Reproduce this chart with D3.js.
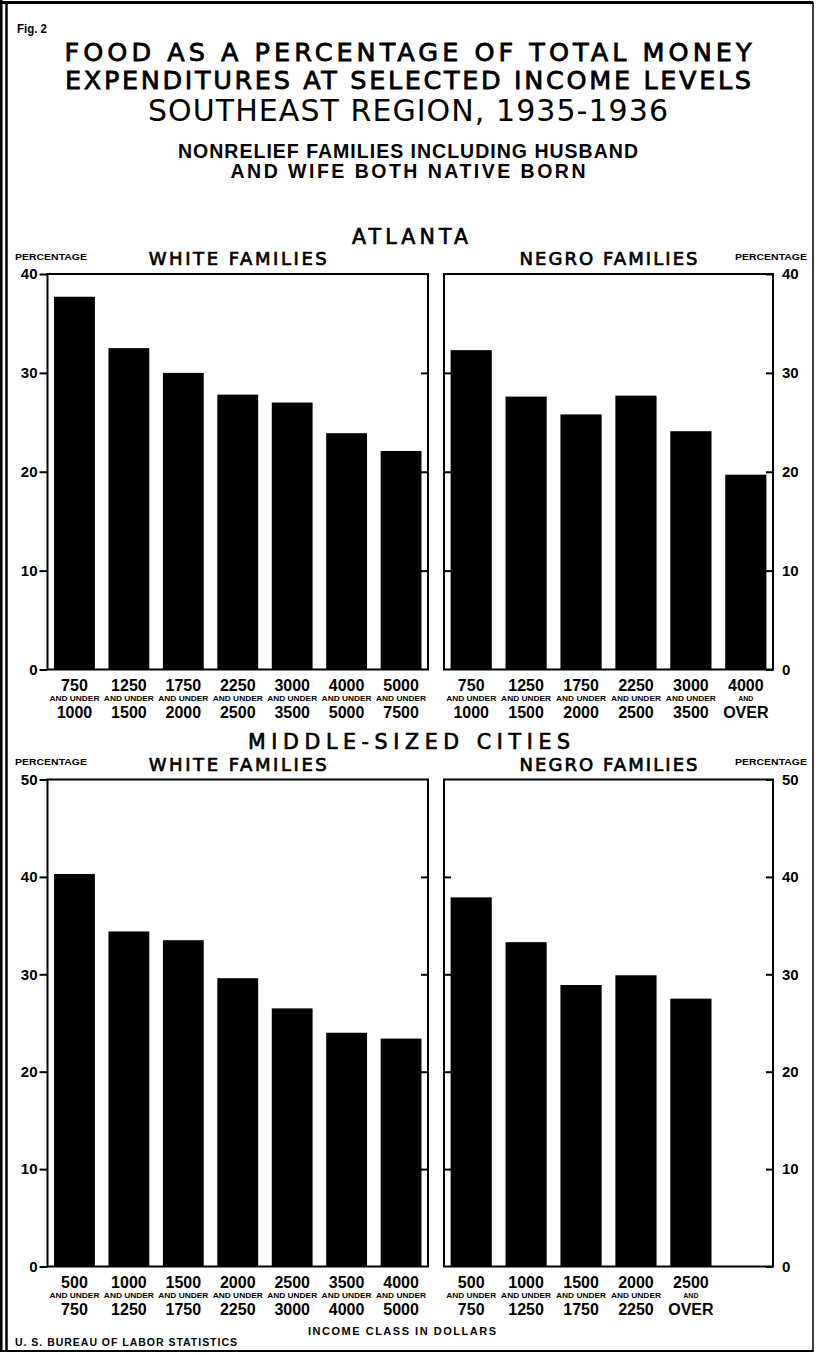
<!DOCTYPE html>
<html>
<head>
<meta charset="utf-8">
<script src="https://cdn.jsdelivr.net/npm/d3@7/dist/d3.min.js"></script>
<style>
html,body{margin:0;padding:0;background:#fff;}
svg{display:block;}
</style>
</head>
<body>
<script>
// ---------- DATA ----------
const atlWhiteValues = [37.7, 32.5, 30.0, 27.8, 27.0, 23.9, 22.1];
const atlWhiteLow    = ["750","1250","1750","2250","3000","4000","5000"];
const atlWhiteMid    = ["AND UNDER","AND UNDER","AND UNDER","AND UNDER","AND UNDER","AND UNDER","AND UNDER"];
const atlWhiteHigh   = ["1000","1500","2000","2500","3500","5000","7500"];

const atlNegroValues = [32.3, 27.6, 25.8, 27.7, 24.1, 19.7];
const atlNegroLow    = ["750","1250","1750","2250","3000","4000"];
const atlNegroMid    = ["AND UNDER","AND UNDER","AND UNDER","AND UNDER","AND UNDER","AND"];
const atlNegroHigh   = ["1000","1500","2000","2500","3500","OVER"];

const midWhiteValues = [40.3, 34.4, 33.5, 29.6, 26.5, 24.0, 23.4];
const midWhiteLow    = ["500","1000","1500","2000","2500","3500","4000"];
const midWhiteMid    = ["AND UNDER","AND UNDER","AND UNDER","AND UNDER","AND UNDER","AND UNDER","AND UNDER"];
const midWhiteHigh   = ["750","1250","1750","2250","3000","4000","5000"];

const midNegroValues = [37.9, 33.3, 28.9, 29.9, 27.5];
const midNegroLow    = ["500","1000","1500","2000","2500"];
const midNegroMid    = ["AND UNDER","AND UNDER","AND UNDER","AND UNDER","AND"];
const midNegroHigh   = ["750","1250","1750","2250","OVER"];

const atlTicks = [0, 10, 20, 30, 40];
const midTicks = [0, 10, 20, 30, 40, 50];

const titleLines = [
  "FOOD AS A PERCENTAGE OF TOTAL MONEY",
  "EXPENDITURES AT SELECTED INCOME LEVELS",
  "SOUTHEAST REGION, 1935-1936",
  "NONRELIEF FAMILIES INCLUDING HUSBAND",
  "AND WIFE BOTH NATIVE BORN"
];

// ---------- DRAW ----------
const W = 816, H = 1354;
const LS = "'Liberation Sans',Arial,sans-serif";
const DV = "'DejaVu Sans',Verdana,sans-serif";
const svg = d3.select("body").append("svg").attr("width", W).attr("height", H)
  .attr("font-family", LS).attr("fill", "#000");
svg.append("rect").attr("width", W).attr("height", H).attr("fill", "#fff");

// outer frame
const frame = svg.append("g").attr("stroke", "#000").attr("fill", "none");
frame.append("line").attr("x1", 0).attr("x2", 813).attr("y1", 2.5).attr("y2", 2.5).attr("stroke-width", 3);
frame.append("line").attr("x1", 1.3).attr("x2", 1.3).attr("y1", 0).attr("y2", 1352).attr("stroke-width", 2.5);
frame.append("line").attr("x1", 6.5).attr("x2", 6.5).attr("y1", 2).attr("y2", 1351).attr("stroke-width", 2.5);
frame.append("line").attr("x1", 813).attr("x2", 813).attr("y1", 2).attr("y2", 1352).attr("stroke-width", 1.5);
frame.append("line").attr("x1", 0).attr("x2", 813).attr("y1", 1351).attr("y2", 1351).attr("stroke-width", 2);

// header
svg.append("text").attr("x", 17).attr("y", 33).attr("font-size", 12.5).attr("font-weight", 700)
  .attr("textLength", 30).attr("lengthAdjust", "spacingAndGlyphs").text("Fig. 2");

const titleSpec = [
  {y: 61,   size: 25.5, weight: 400, font: DV, stroke: 0.8, len: 687},
  {y: 88.5, size: 25.5, weight: 400, font: DV, stroke: 0.8, len: 686},
  {y: 121,  size: 30,   weight: 400, font: DV, stroke: 0,   len: 520},
  {y: 157.5,size: 19.5, weight: 700, font: LS, stroke: 0,   len: 460},
  {y: 177.5,size: 19.5, weight: 700, font: LS, stroke: 0,   len: 355}
];
titleLines.forEach((t, i) => {
  const s = titleSpec[i];
  svg.append("text").attr("x", 408).attr("y", s.y).attr("text-anchor", "middle")
    .attr("font-family", s.font).attr("font-size", s.size).attr("font-weight", s.weight)
    .attr("stroke", s.stroke ? "#000" : "none").attr("stroke-width", s.stroke)
    .attr("textLength", s.len).attr("lengthAdjust", "spacing").text(t);
});

function heading(txt, cx, y, size, len) {
  svg.append("text").attr("x", cx).attr("y", y).attr("text-anchor", "middle")
    .attr("font-family", DV).attr("font-size", size).attr("font-weight", 400)
    .attr("stroke", "#000").attr("stroke-width", 0.7)
    .attr("textLength", len).attr("lengthAdjust", "spacing").text(txt);
}
function smallLabel(txt, x, y) {
  svg.append("text").attr("x", x).attr("y", y).attr("font-size", 9).attr("font-weight", 700)
    .attr("textLength", 72).attr("lengthAdjust", "spacingAndGlyphs").text(txt);
}

heading("ATLANTA", 410, 244, 20.5, 116);
heading("MIDDLE-SIZED CITIES", 409, 749, 20.5, 322);

function panel(o) {
  const y = d3.scaleLinear().domain([0, o.max]).range([o.yBot, o.yTop]);
  const x = d3.scaleBand().domain(d3.range(o.slots)).range([o.x0, o.x1])
    .paddingInner(0.25).paddingOuter(0.12);
  const g = svg.append("g");

  g.selectAll("rect.bar").data(o.values).join("rect").attr("class", "bar")
    .attr("x", (d, i) => x(i)).attr("width", x.bandwidth())
    .attr("y", d => y(d)).attr("height", d => y(0) - y(d)).attr("fill", "#000");

  g.append("rect").attr("x", o.x0).attr("y", o.yTop)
    .attr("width", o.x1 - o.x0).attr("height", o.yBot - o.yTop)
    .attr("fill", "none").attr("stroke", "#000").attr("stroke-width", 2);

  const styleAxis = sel => {
    sel.select(".domain").remove();
    sel.selectAll(".tick line").attr("stroke", "#000").attr("stroke-width", 2);
    sel.selectAll(".tick text").attr("font-size", 15).attr("font-weight", 700)
      .attr("font-family", LS).attr("fill", "#000");
  };
  if (o.side === "left") {
    g.append("g").attr("transform", `translate(${o.x0},0)`)
      .call(d3.axisLeft(y).tickValues(o.ticks).tickSize(8).tickPadding(2).tickFormat(d3.format("d")))
      .call(styleAxis);
    g.append("g").attr("transform", `translate(${o.x1},0)`)
      .call(d3.axisRight(y).tickValues(o.ticks.slice(1, -1)).tickSize(-7).tickFormat(""))
      .call(styleAxis);
  } else {
    g.append("g").attr("transform", `translate(${o.x1},0)`)
      .call(d3.axisRight(y).tickValues(o.ticks).tickSize(-7).tickPadding(9).tickFormat(d3.format("d")))
      .call(styleAxis);
    g.append("g").attr("transform", `translate(${o.x0},0)`)
      .call(d3.axisLeft(y).tickValues(o.ticks.slice(1, -1)).tickSize(-7).tickFormat(""))
      .call(styleAxis);
  }

  const cx = i => x(i) + x.bandwidth() / 2;
  g.selectAll("text.lo").data(o.low).join("text").attr("class", "lo")
    .attr("x", (d, i) => cx(i)).attr("y", o.yBot + 21).attr("text-anchor", "middle")
    .attr("font-size", 16).attr("font-weight", 700).text(d => d);
  g.selectAll("text.mid").data(o.mid).join("text").attr("class", "mid")
    .attr("x", (d, i) => cx(i)).attr("y", o.yBot + 31).attr("text-anchor", "middle")
    .attr("font-size", 7).attr("font-weight", 700)
    .each(function (d) {
      if (d.length > 4) d3.select(this).attr("textLength", 50).attr("lengthAdjust", "spacingAndGlyphs");
    })
    .text(d => d);
  g.selectAll("text.hi").data(o.high).join("text").attr("class", "hi")
    .attr("x", (d, i) => cx(i)).attr("y", o.yBot + 48).attr("text-anchor", "middle")
    .attr("font-size", 16).attr("font-weight", 700).text(d => d);

  heading(o.title, (o.x0 + o.x1) / 2, o.yTop - 9, 18, 178);
}

panel({x0: 47.5, x1: 428, yTop: 274, yBot: 669.5, max: 40, slots: 7, side: "left",
  values: atlWhiteValues, low: atlWhiteLow, mid: atlWhiteMid, high: atlWhiteHigh,
  ticks: atlTicks, title: "WHITE FAMILIES"});
panel({x0: 444, x1: 773, yTop: 274, yBot: 669.5, max: 40, slots: 6, side: "right",
  values: atlNegroValues, low: atlNegroLow, mid: atlNegroMid, high: atlNegroHigh,
  ticks: atlTicks, title: "NEGRO FAMILIES"});
panel({x0: 47.5, x1: 428, yTop: 779.5, yBot: 1266.5, max: 50, slots: 7, side: "left",
  values: midWhiteValues, low: midWhiteLow, mid: midWhiteMid, high: midWhiteHigh,
  ticks: midTicks, title: "WHITE FAMILIES"});
panel({x0: 444, x1: 773, yTop: 779.5, yBot: 1266.5, max: 50, slots: 6, side: "right",
  values: midNegroValues, low: midNegroLow, mid: midNegroMid, high: midNegroHigh,
  ticks: midTicks, title: "NEGRO FAMILIES"});

smallLabel("PERCENTAGE", 15, 260);
smallLabel("PERCENTAGE", 735, 260);
smallLabel("PERCENTAGE", 15, 765);
smallLabel("PERCENTAGE", 735, 765);

svg.append("text").attr("x", 402).attr("y", 1335).attr("text-anchor", "middle")
  .attr("font-size", 11).attr("font-weight", 700)
  .attr("textLength", 188).attr("lengthAdjust", "spacing").text("INCOME CLASS IN DOLLARS");
svg.append("text").attr("x", 15).attr("y", 1346)
  .attr("font-size", 10.5).attr("font-weight", 700)
  .attr("textLength", 222).attr("lengthAdjust", "spacing").text("U. S. BUREAU OF LABOR STATISTICS");
</script>
</body>
</html>
